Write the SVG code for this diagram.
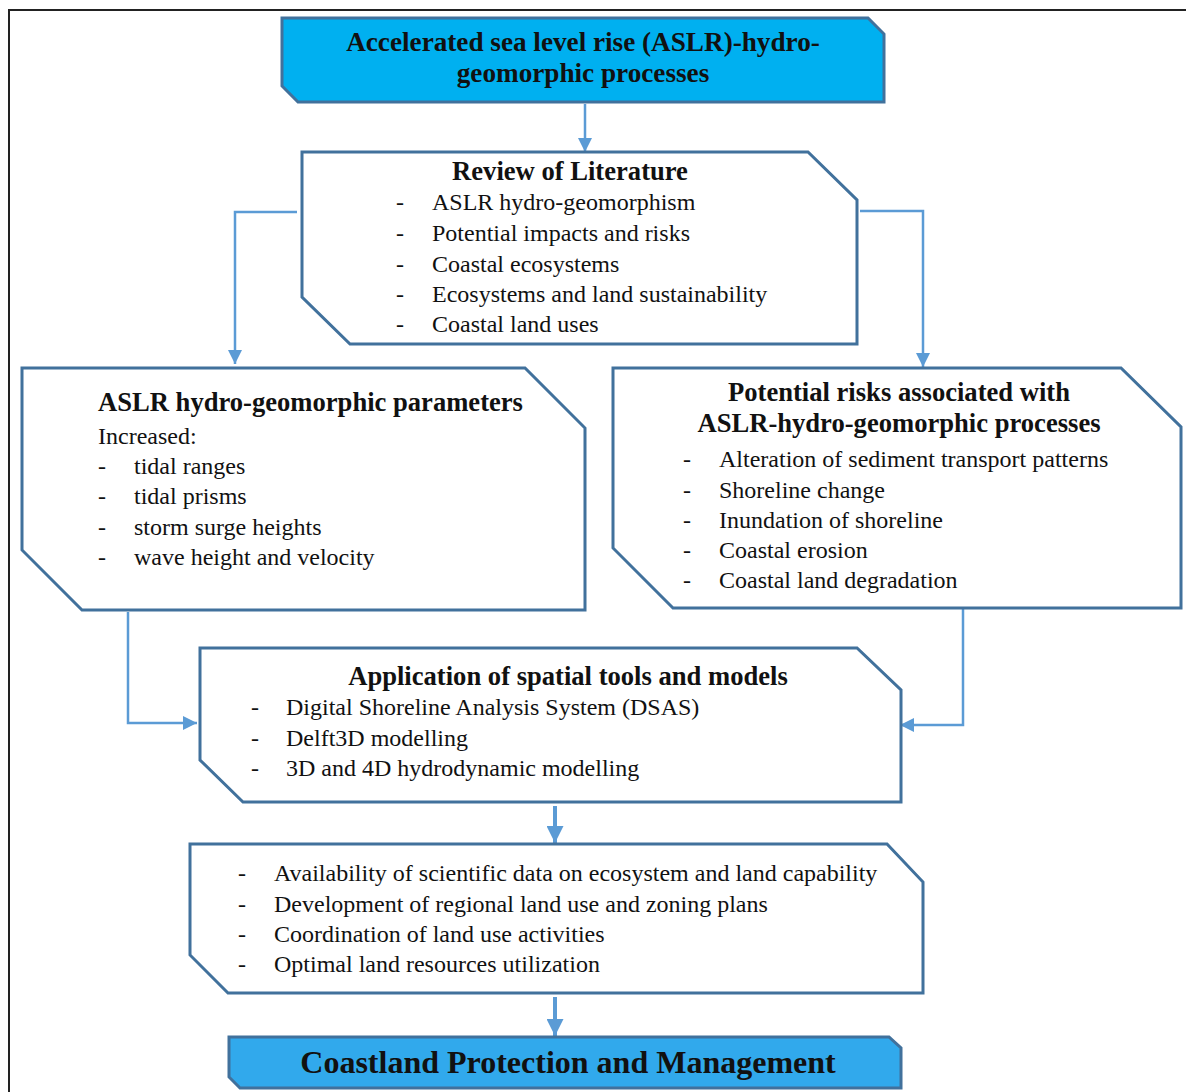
<svg xmlns="http://www.w3.org/2000/svg" width="1186" height="1092" viewBox="0 0 1186 1092">
<defs>
<style>
.box{fill:#fff;stroke:#41719C;stroke-width:3;stroke-linejoin:miter}
.blue{fill:#00B0F0}
.blue2{fill:#31A9EC}
.t{font-family:"Liberation Serif","Times New Roman",serif;font-size:24px;fill:#111}
.b{font-family:"Liberation Serif","Times New Roman",serif;font-size:26.6px;font-weight:bold;fill:#111}
.top{font-size:27.2px}
.big{font-family:"Liberation Serif","Times New Roman",serif;font-size:32px;font-weight:bold;fill:#111}
.c{text-anchor:middle}
.con{fill:none;stroke:#5B9BD5;stroke-width:2.5}
.thick{fill:none;stroke:#5B9BD5;stroke-width:4}
</style>
<marker id="ah" viewBox="0 0 10 10" refX="10" refY="5" markerWidth="14" markerHeight="14" markerUnits="userSpaceOnUse" orient="auto">
<path d="M0,0 L10,5 L0,10 Z" fill="#5B9BD5"/>
</marker>
<marker id="ah2" viewBox="0 0 10 10" refX="10" refY="5" markerWidth="17" markerHeight="17" markerUnits="userSpaceOnUse" orient="auto">
<path d="M0,0 L10,5 L0,10 Z" fill="#5B9BD5"/>
</marker>
</defs>
<rect width="1186" height="1092" fill="#fff"/>
<path d="M9,1092 V10 H1186" fill="none" stroke="#222" stroke-width="2"/>

<g id="connectors">
<path class="con" d="M585,104 V152" marker-end="url(#ah)"/>
<path class="con" d="M297,212 H235 V364" marker-end="url(#ah)"/>
<path class="con" d="M860,211 H923 V367" marker-end="url(#ah)"/>
<path class="con" d="M128,612 V723 H197" marker-end="url(#ah)"/>
<path class="con" d="M963,609 V725 H900" marker-end="url(#ah)"/>
<path class="thick" d="M555,806 V843" marker-end="url(#ah2)"/>
<path class="thick" d="M555,997 V1036" marker-end="url(#ah2)"/>
</g>

<g id="node-aslr">
<polygon class="box blue" points="282,18 868,18 884,34 884,102 298,102 282,86"/>
<text class="b top c" x="583" y="51">Accelerated sea level rise (ASLR)-hydro-</text>
<text class="b top c" x="583" y="82">geomorphic processes</text>
</g>

<g id="node-review">
<polygon class="box" points="302,152 808,152 857,200 857,344 350,344 302,297"/>
<text class="b c" x="570" y="180">Review of Literature</text>
<text class="t" x="396" y="210">-</text><text class="t" x="432" y="210">ASLR hydro-geomorphism</text>
<text class="t" x="396" y="241">-</text><text class="t" x="432" y="241">Potential impacts and risks</text>
<text class="t" x="396" y="272">-</text><text class="t" x="432" y="272">Coastal ecosystems</text>
<text class="t" x="396" y="302">-</text><text class="t" x="432" y="302">Ecosystems and land sustainability</text>
<text class="t" x="396" y="332">-</text><text class="t" x="432" y="332">Coastal land uses</text>
</g>

<g id="node-parameters">
<polygon class="box" points="22,368 525,368 585,428 585,610 82,610 22,550"/>
<text class="b" x="98" y="411">ASLR hydro-geomorphic parameters</text>
<text class="t" x="98" y="444">Increased:</text>
<text class="t" x="98" y="474">-</text><text class="t" x="134" y="474">tidal ranges</text>
<text class="t" x="98" y="504">-</text><text class="t" x="134" y="504">tidal prisms</text>
<text class="t" x="98" y="535">-</text><text class="t" x="134" y="535">storm surge heights</text>
<text class="t" x="98" y="565">-</text><text class="t" x="134" y="565">wave height and velocity</text>
</g>

<g id="node-risks">
<polygon class="box" points="613,368 1121,368 1181,427 1181,608 673,608 613,548"/>
<text class="b c" x="899" y="401">Potential risks associated with</text>
<text class="b c" x="899" y="432">ASLR-hydro-geomorphic processes</text>
<text class="t" x="683" y="467">-</text><text class="t" x="719" y="467">Alteration of sediment transport patterns</text>
<text class="t" x="683" y="498">-</text><text class="t" x="719" y="498">Shoreline change</text>
<text class="t" x="683" y="528">-</text><text class="t" x="719" y="528">Inundation of shoreline</text>
<text class="t" x="683" y="558">-</text><text class="t" x="719" y="558">Coastal erosion</text>
<text class="t" x="683" y="588">-</text><text class="t" x="719" y="588">Coastal land degradation</text>
</g>

<g id="node-tools">
<polygon class="box" points="200,648 857,648 901,690 901,802 243,802 200,760"/>
<text class="b c" x="568" y="685">Application of spatial tools and models</text>
<text class="t" x="251" y="715">-</text><text class="t" x="286" y="715">Digital Shoreline Analysis System (DSAS)</text>
<text class="t" x="251" y="746">-</text><text class="t" x="286" y="746">Delft3D modelling</text>
<text class="t" x="251" y="776">-</text><text class="t" x="286" y="776">3D and 4D hydrodynamic modelling</text>
</g>

<g id="node-outcomes">
<polygon class="box" points="190,844 887,844 923,882 923,993 228,993 190,955"/>
<text class="t" x="238" y="881">-</text><text class="t" x="274" y="881">Availability of scientific data on ecosystem and land capability</text>
<text class="t" x="238" y="912">-</text><text class="t" x="274" y="912">Development of regional land use and zoning plans</text>
<text class="t" x="238" y="942">-</text><text class="t" x="274" y="942">Coordination of land use activities</text>
<text class="t" x="238" y="972">-</text><text class="t" x="274" y="972">Optimal land resources utilization</text>
</g>

<g id="node-coastland">
<polygon class="box blue2" points="229,1037 889,1037 901,1048 901,1088 240,1088 229,1077"/>
<text class="big c" x="568" y="1073">Coastland Protection and Management</text>
</g>
</svg>
